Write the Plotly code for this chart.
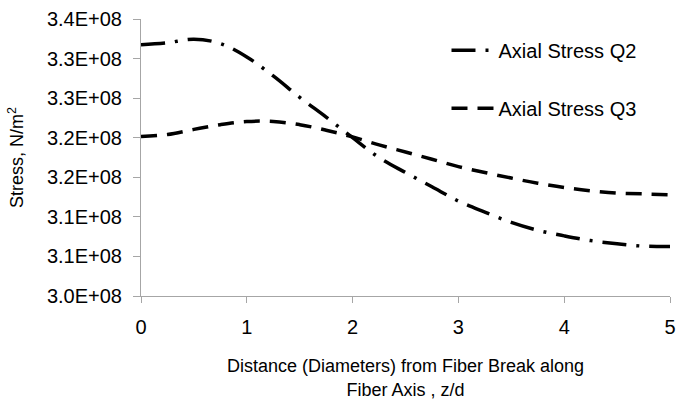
import plotly.graph_objects as go

z_d = [0, 0.25, 0.5, 0.75, 1.0, 1.25, 1.5, 1.75, 2.0, 2.25, 2.5, 2.75, 3.0,
       3.25, 3.5, 3.75, 4.0, 4.25, 4.5, 4.75, 5.0]
q2 = [3.3175, 3.320, 3.3245, 3.319, 3.302, 3.278, 3.251, 3.226, 3.200, 3.175,
      3.156, 3.138, 3.120, 3.106, 3.093, 3.083, 3.076, 3.070, 3.066, 3.063, 3.0625]
q3 = [3.2015, 3.204, 3.2105, 3.2165, 3.2205, 3.2205, 3.2165, 3.2095, 3.201, 3.191,
      3.182, 3.1728, 3.1635, 3.156, 3.149, 3.1425, 3.137, 3.133, 3.130, 3.129, 3.128]
q2 = [v * 1e8 for v in q2]
q3 = [v * 1e8 for v in q3]

y_tickvals = [3.00e8, 3.05e8, 3.10e8, 3.15e8, 3.20e8, 3.25e8, 3.30e8, 3.35e8]
y_ticktext = ["3.0E+08", "3.1E+08", "3.1E+08", "3.2E+08", "3.2E+08", "3.3E+08",
              "3.3E+08", "3.4E+08"]
x_tickvals = [0, 1, 2, 3, 4, 5]

FONT = "Liberation Sans, Arial, sans-serif"
AXIS = "#a6a6a6"

fig = go.Figure()
fig.add_trace(go.Scatter(
    x=z_d, y=q2, mode="lines", name="Axial Stress Q2", legendgroup="a",
    line=dict(color="black", width=3.5, shape="spline", smoothing=1,
              dash="24px,10px,3px,10px")))
fig.add_trace(go.Scatter(
    x=z_d, y=q3, mode="lines", name="Axial Stress Q3", legendgroup="b",
    line=dict(color="black", width=3.5, shape="spline", smoothing=1,
              dash="16px,10px")))

fig.update_layout(
    width=683, height=403,
    margin=dict(l=141, r=7, t=19, b=104),
    paper_bgcolor="white", plot_bgcolor="white",
    font=dict(family=FONT, size=18, color="black"),
    showlegend=True,
    legend=dict(x=0.5775, y=0.958, xanchor="left", yanchor="top",
                bgcolor="rgba(0,0,0,0)", font=dict(size=20, family=FONT),
                itemwidth=42, tracegroupgap=29),
    xaxis=dict(range=[0, 5], tickvals=x_tickvals, showgrid=False, zeroline=False,
               showline=True, linecolor=AXIS, linewidth=1,
               ticks="outside", ticklen=6, tickcolor=AXIS,
               tickfont=dict(size=20, family=FONT), ticklabelstandoff=7,
               title=dict(text="Distance (Diameters) from Fiber Break along<br>Fiber Axis , z/d",
                          font=dict(size=18, family=FONT), standoff=22)),
    yaxis=dict(range=[3.0e8, 3.35e8], tickvals=y_tickvals, ticktext=y_ticktext,
               showgrid=False, zeroline=False,
               showline=True, linecolor=AXIS, linewidth=1,
               ticks="outside", ticklen=7, tickcolor=AXIS,
               tickfont=dict(size=20, family=FONT), ticklabelstandoff=7,
               title=dict(text="Stress, N/m<sup>2</sup>", font=dict(size=18, family=FONT),
                          standoff=18)),
)

fig.write_html("out.html", post_script="document.body.style.margin='0px';",
               config={"displayModeBar": False})
